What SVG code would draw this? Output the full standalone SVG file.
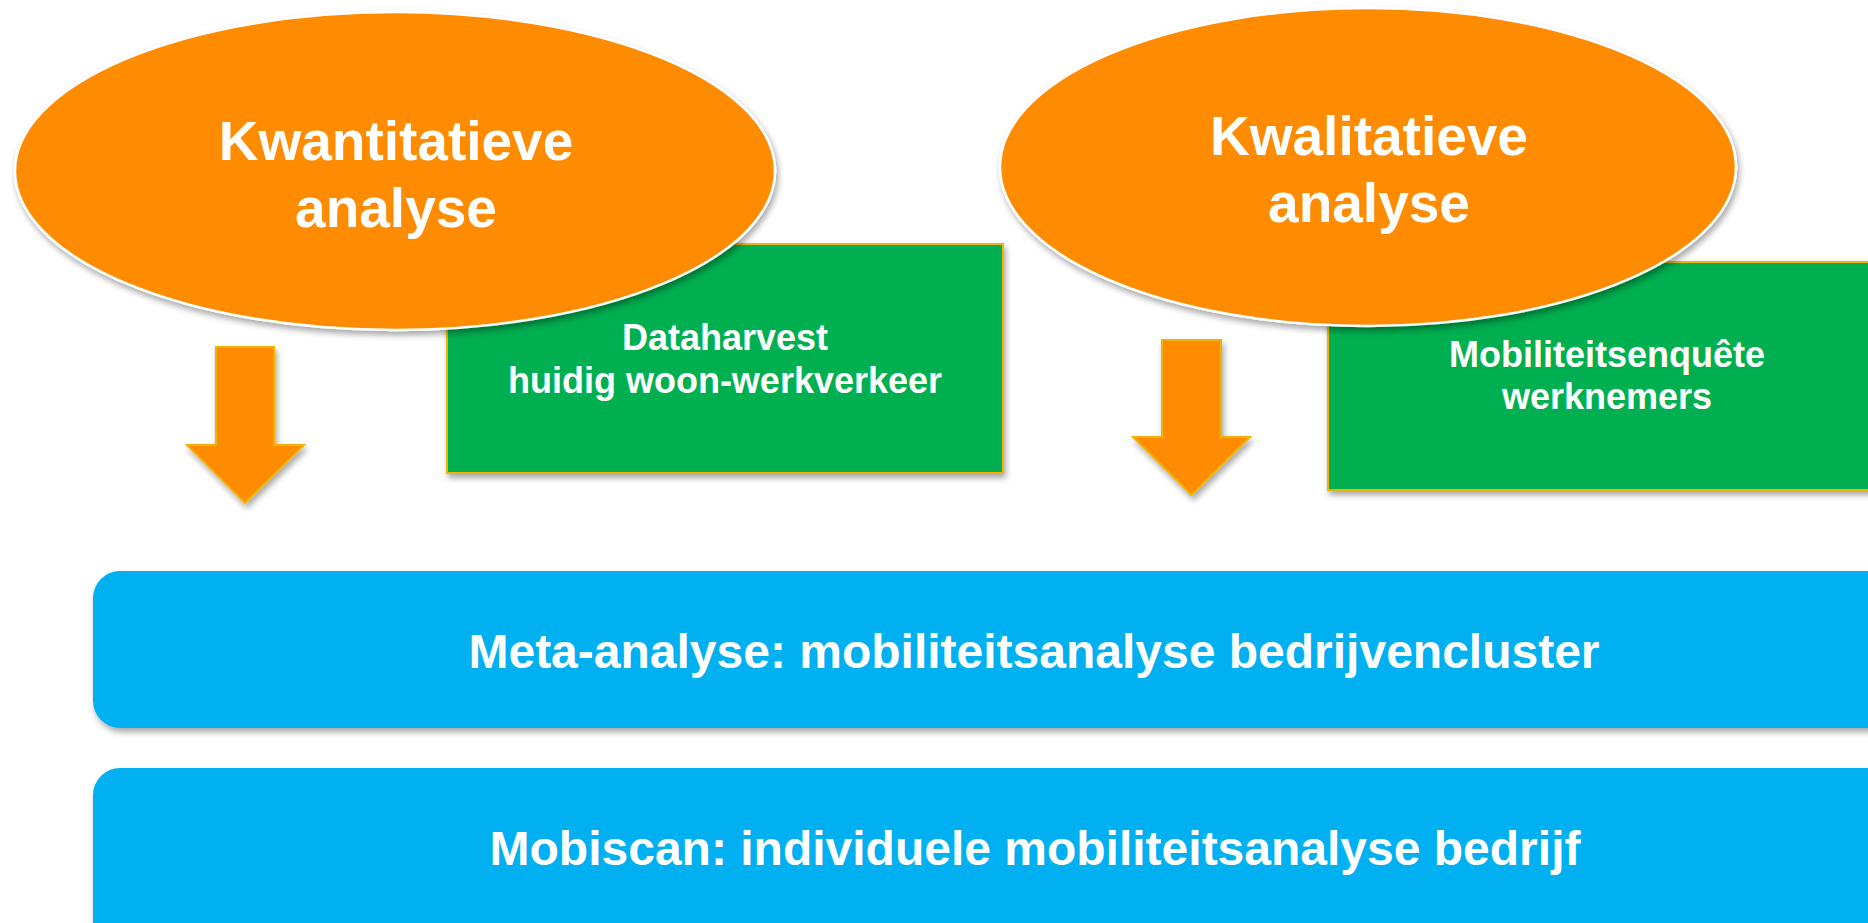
<svg xmlns="http://www.w3.org/2000/svg" width="1868" height="923" viewBox="0 0 1868 923">
<defs>
<filter id="sh" x="-10%" y="-10%" width="130%" height="130%">
<feDropShadow dx="2" dy="4" stdDeviation="3" flood-color="#000" flood-opacity="0.35"/>
</filter>
</defs>
<style>
.oval{fill:#FF8C00;stroke:#FFFFFF;stroke-width:2.5;filter:url(#sh)}
.green{fill:#00AF50;stroke:#F0B400;stroke-width:2;filter:url(#sh)}
.blue{fill:#00B0F0;filter:url(#sh)}
.arrow{fill:#FF8C00;stroke:#F0B400;stroke-width:2;stroke-linejoin:miter;filter:url(#sh)}
text{font-family:"Liberation Sans",Arial,sans-serif;font-weight:bold;fill:#FFFFFF;text-anchor:middle}
.big{font-size:55px}
.mid{font-size:36px}
.bar{font-size:48px}
</style>
<rect width="1868" height="923" fill="#FFFFFF"/>
<g id="box-dataharvest">
<rect class="green" x="447" y="244" width="556" height="229"/>
<text class="mid" x="725" y="350">Dataharvest</text>
<text class="mid" x="725" y="393">huidig woon-werkverkeer</text>
</g>
<g id="box-enquete">
<rect class="green" x="1328" y="262" width="558" height="228"/>
<text class="mid" x="1607" y="367">Mobiliteitsenquête</text>
<text class="mid" x="1607" y="409">werknemers</text>
</g>
<g id="oval-kwantitatief">
<ellipse class="oval" cx="395" cy="171" rx="380" ry="159"/>
<text class="big" x="396" y="160">Kwantitatieve</text>
<text class="big" x="396" y="227">analyse</text>
</g>
<g id="oval-kwalitatief">
<ellipse class="oval" cx="1368" cy="167" rx="368" ry="159"/>
<text class="big" x="1369" y="155">Kwalitatieve</text>
<text class="big" x="1369" y="222">analyse</text>
</g>
<g id="connectors">
<polygon class="arrow" points="216,347 274,347 274,445 304,445 245,503 187,445 216,445"/>
<polygon class="arrow" points="1162,340 1221,340 1221,437 1250,437 1191.5,495 1133,437 1162,437"/>
</g>
<g id="bar-meta">
<rect class="blue" x="93" y="571" width="1900" height="157" rx="27" ry="27"/>
<text class="bar" x="1034" y="668">Meta-analyse: mobiliteitsanalyse bedrijvencluster</text>
</g>
<g id="bar-mobiscan">
<rect class="blue" x="93" y="768" width="1900" height="200" rx="27" ry="27"/>
<text class="bar" x="1035" y="865">Mobiscan: individuele mobiliteitsanalyse bedrijf</text>
</g>
</svg>
